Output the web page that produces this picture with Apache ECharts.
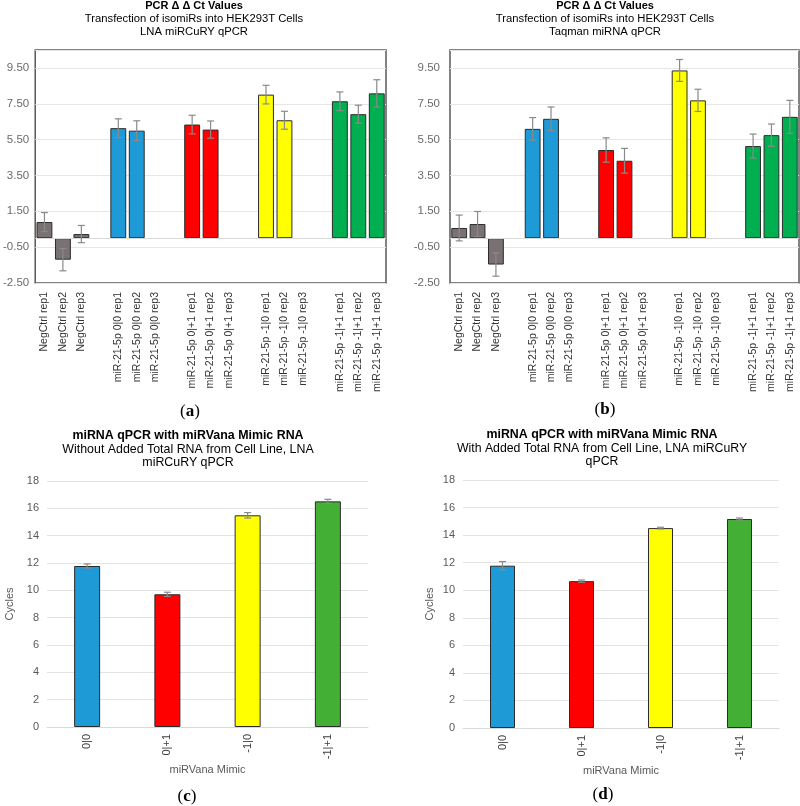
<!DOCTYPE html>
<html><head><meta charset="utf-8">
<script src="https://cdn.jsdelivr.net/npm/echarts@6/dist/echarts.min.js"></script>
<style>html,body{margin:0;padding:0;background:#fff}#c{width:800px;height:806px}</style>
</head><body><div id="c"></div>
<script>
// ---------- data ----------
const catsAB = ['NegCtrl rep1','NegCtrl rep2','NegCtrl rep3','',
  'miR-21-5p 0|0 rep1','miR-21-5p 0|0 rep2','miR-21-5p 0|0 rep3','',
  'miR-21-5p 0|+1 rep1','miR-21-5p 0|+1 rep2','miR-21-5p 0|+1 rep3','',
  'miR-21-5p -1|0 rep1','miR-21-5p -1|0 rep2','miR-21-5p -1|0 rep3','',
  'miR-21-5p -1|+1 rep1','miR-21-5p -1|+1 rep2','miR-21-5p -1|+1 rep3'];
const valsA = [0.90,-1.20,0.23,null, 6.14,6.00,null,null, 6.34,6.06,null,null, 8.01,6.58,null,null, 7.64,6.92,8.08];
const errA  = [0.53,0.62,0.48,null, 0.52,0.55,null,null, 0.52,0.48,null,null, 0.52,0.50,null,null, 0.52,0.50,0.76];
const valsB = [0.57,0.79,-1.47,null, 6.10,6.66,null,null, 4.92,4.32,null,null, 9.36,7.69,null,null, 5.14,5.75,6.77];
const errB  = [0.72,0.70,0.65,null, 0.63,0.66,null,null, 0.68,0.69,null,null, 0.61,0.62,null,null, 0.67,0.62,0.92];
const catsCD = ['0|0','0|+1','-1|0','-1|+1'];
const valsC = [11.78, 9.71, 15.49, 16.51];
const errC  = [0.15, 0.15, 0.20, 0.15];
const valsD = [11.78, 10.66, 14.51, 15.17];
const errD  = [0.30, 0.08, 0.06, 0.07];
const titleA = ['PCR Δ Δ Ct Values','Transfection of isomiRs into HEK293T Cells','LNA miRCuRY qPCR'];
const titleB = ['PCR Δ Δ Ct Values','Transfection of isomiRs into HEK293T Cells','Taqman miRNA qPCR'];
const titleC = ['miRNA qPCR with miRVana Mimic RNA','Without Added Total RNA from Cell Line, LNA','miRCuRY qPCR'];
const titleD = ['miRNA qPCR with miRVana Mimic RNA','With Added Total RNA from Cell Line, LNA miRCuRY','qPCR'];

// ---------- styles ----------
const GRAY='#7a7173', BLUE='#1e9bd7', RED='#ff0000', YEL='#ffff00', GRN1='#00b050', GRN2='#43b035';
const colorsAB = [GRAY,GRAY,GRAY,GRAY, BLUE,BLUE,BLUE,BLUE, RED,RED,RED,RED, YEL,YEL,YEL,YEL, GRN1,GRN1,GRN1];
const colorsCD = [BLUE, RED, YEL, GRN2];
const FONT = '"Liberation Sans", Arial, sans-serif';

const chart = echarts.init(document.getElementById('c'), null, {renderer:'canvas'});

function errSeries(idx, vals, errs, cap, lw) {
  const data = [];
  vals.forEach((v,i)=>{ if (v!=null) data.push([i, v-errs[i], v+errs[i]]); });
  return {
    type:'custom', xAxisIndex:idx, yAxisIndex:idx, z:10, silent:true,
    data, encode:{x:0, y:[1,2]},
    renderItem(params, api) {
      const x = api.value(0);
      const lo = api.coord([x, api.value(1)]), hi = api.coord([x, api.value(2)]);
      const st = {stroke:'#8a8a8a', lineWidth:lw};
      return {type:'group', children:[
        {type:'line', shape:{x1:lo[0],y1:lo[1],x2:hi[0],y2:hi[1]}, style:st},
        {type:'line', shape:{x1:lo[0]-cap,y1:lo[1],x2:lo[0]+cap,y2:lo[1]}, style:st},
        {type:'line', shape:{x1:hi[0]-cap,y1:hi[1],x2:hi[0]+cap,y2:hi[1]}, style:st}
      ]};
    }
  };
}
function barSeries(idx, vals, colors, extra) {
  return Object.assign({
    type:'bar', xAxisIndex:idx, yAxisIndex:idx,
    data: vals.map((v,i)=>({value: v==null?'-':v, itemStyle:{color:colors[i]}})),
    itemStyle:{borderColor:'#2b2b2b', borderWidth:1}
  }, extra);
}
function titleGraphic(lines, cx, ys, boldSize, size) {
  return lines.map((t,i)=>({type:'text', x:cx, y:ys[i], silent:true,
    style:{text:t, textAlign:'center', textVerticalAlign:'middle', fill:'#000',
      font:(i===0?'bold ':'')+(i===0?boldSize:size)+'px '+FONT}}));
}
function caption(letter, cx, cy) {
  return {type:'text', x:cx, y:cy, silent:true,
    style:{text:'({b|'+letter+'})', textAlign:'center', textVerticalAlign:'middle', fill:'#000',
      font:'17px "Liberation Serif", "DejaVu Serif", serif',
      rich:{b:{fontWeight:'bold', fontSize:17, fontFamily:'"Liberation Serif", serif'}}}};
}

const gridAB = (left,width)=>({left, top:50, width, height:233, show:true, borderColor:'#595959', borderWidth:1.5, backgroundColor:'#fff'});
const gridCD = (left,top,width,height)=>({left, top, width, height, show:false});

const xAB = idx=>({type:'category', gridIndex:idx, data:catsAB,
  axisLine:{show:false}, axisTick:{show:false},
  axisLabel:{interval:0, rotate:90, fontSize:10.5, color:'#333', fontFamily:FONT, margin:9}});
const yAB = (idx, margin)=>({type:'value', gridIndex:idx, min:-2.5, max:10.5, interval:2,
  axisLine:{show:false}, axisTick:{show:false},
  splitLine:{lineStyle:{color:'#e6e6e6', width:1}},
  axisLabel:{showMaxLabel:false, formatter:v=>v.toFixed(2), fontSize:11.5, color:'#6b6b6b', fontFamily:FONT, margin}});
const xCD = idx=>({type:'category', gridIndex:idx, data:catsCD,
  name:'miRVana Mimic', nameLocation:'middle', nameGap:37,
  nameTextStyle:{fontSize:11, color:'#595959', fontFamily:FONT},
  axisLine:{show:true, lineStyle:{color:'#d9d9d9'}}, axisTick:{show:false},
  axisLabel:{interval:0, rotate:90, fontSize:11, color:'#404040', fontFamily:FONT, margin:7}});
const yCD = (idx, gap)=>({type:'value', gridIndex:idx, min:0, max:18, interval:2,
  name:'Cycles', nameLocation:'middle', nameGap:gap,
  nameTextStyle:{fontSize:11, color:'#595959', fontFamily:FONT},
  axisLine:{show:false}, axisTick:{show:false},
  splitLine:{lineStyle:{color:'#e3e3e3', width:1}},
  axisLabel:{fontSize:11, color:'#595959', fontFamily:FONT, margin:8}});

const zeroLine = {silent:true, symbol:'none', label:{show:false},
  lineStyle:{color:'#d9d9d9', type:'solid', width:1}, data:[{yAxis:0}]};

const option = {
  backgroundColor:'#fff',
  animation:false,
  textStyle:{fontFamily:FONT},
  grid:[gridAB(35,351), gridAB(450,349), gridCD(47,481,321,246), gridCD(463,480,316,248)],
  xAxis:[xAB(0), xAB(1), xCD(2), xCD(3)],
  yAxis:[yAB(0,6), yAB(1,10), yCD(2,32), yCD(3,28)],
  series:[
    barSeries(0, valsA, colorsAB, {barCategoryGap:'14%', markLine:zeroLine}),
    errSeries(0, valsA, errA, 3.5, 1.2),
    barSeries(1, valsB, colorsAB, {barCategoryGap:'14%', markLine:zeroLine}),
    errSeries(1, valsB, errB, 3.5, 1.2),
    barSeries(2, valsC, colorsCD, {barWidth:26}),
    errSeries(2, valsC, errC, 3.5, 1.2),
    barSeries(3, valsD, colorsCD, {barWidth:25}),
    errSeries(3, valsD, errD, 3.5, 1.2)
  ],
  graphic:[].concat(
    titleGraphic(titleA, 194, [6,19,32], 11, 11.25),
    titleGraphic(titleB, 605, [6,19,32], 11, 11.25),
    titleGraphic(titleC, 188, [436,449.5,463], 12.4, 12.4),
    titleGraphic(titleD, 602, [435,448.5,462], 12.4, 12.3),
    [caption('a',190,412), caption('b',605,410), caption('c',187,797), caption('d',603,795)]
  )
};
chart.setOption(option);
</script></body></html>
